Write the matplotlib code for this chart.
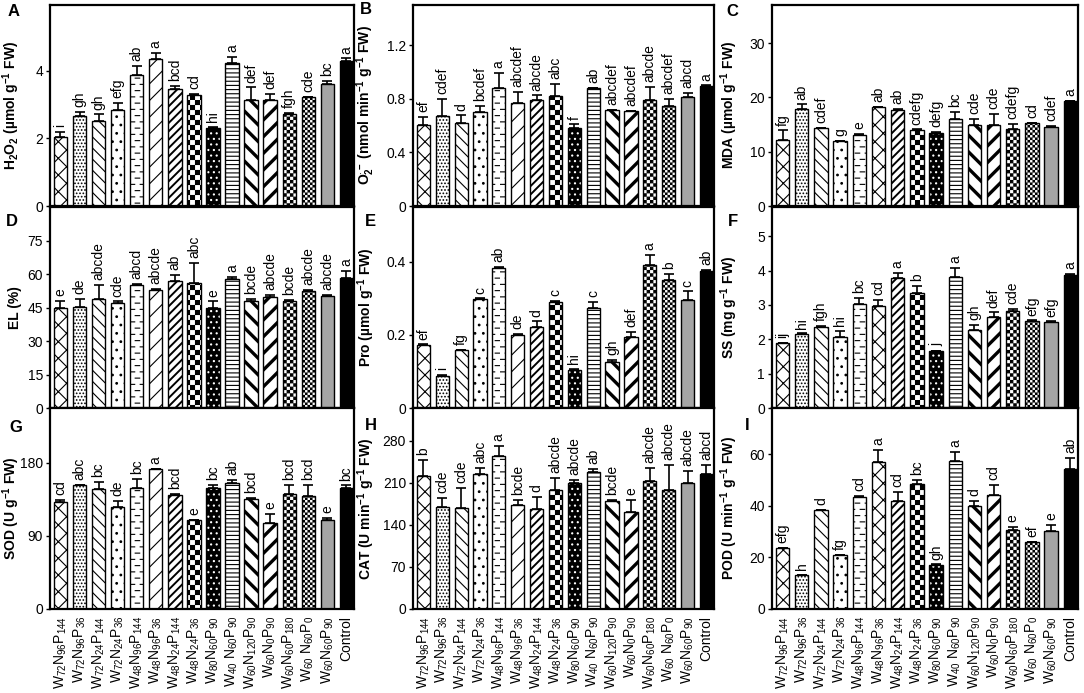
import warnings
warnings.filterwarnings('ignore')
import numpy as np
import matplotlib
matplotlib.use('Agg')
import matplotlib.pyplot as plt
import matplotlib.hatch as mhatch
from matplotlib.path import Path

plt.rcParams['font.family'] = ['Liberation Sans', 'DejaVu Sans']
plt.rcParams['mathtext.fontset'] = 'custom'
plt.rcParams['mathtext.rm'] = 'Liberation Sans'
plt.rcParams['mathtext.it'] = 'Liberation Sans:italic'
plt.rcParams['mathtext.bf'] = 'Liberation Sans:bold'
plt.rcParams['mathtext.default'] = 'regular'
plt.rcParams['hatch.linewidth'] = 0.8


# ---------- custom hatch patterns (checkerboard, short dashes) ----------
class CheckerHatch(mhatch.HatchPatternBase):
    def __init__(self, hatch, density):
        self.n = hatch.count('C') * 5
        m = 2 * self.n
        self.num_vertices = (m * m // 2) * 5 if self.n else 0

    def set_vertices_and_codes(self, vertices, codes):
        m = 2 * self.n
        s = 1.0 / m
        e = 0.005
        k = 0
        for i in range(m):
            for j in range(m):
                if (i + j) % 2 == 0:
                    x0, y0 = j * s + e, i * s + e
                    x1, y1 = (j + 1) * s - e, (i + 1) * s - e
                    vertices[k:k + 5] = [[x0, y0], [x1, y0], [x1, y1], [x0, y1], [x0, y0]]
                    codes[k:k + 5] = [Path.MOVETO, Path.LINETO, Path.LINETO,
                                      Path.LINETO, Path.CLOSEPOLY]
                    k += 5


class ShortDashHatch(mhatch.HatchPatternBase):
    def __init__(self, hatch, density):
        self.rows = hatch.count('d') * 8
        self.cols = 10
        self.num_vertices = self.rows * self.cols * 2

    def set_vertices_and_codes(self, vertices, codes):
        k = 0
        L = 0.045
        for i in range(self.rows):
            y = (i + 0.5) / self.rows
            for j in range(self.cols):
                x = (j + 0.5 * (i % 2)) / self.cols + 0.002
                vertices[k:k + 2] = [[x, y], [x + L, y]]
                codes[k:k + 2] = [Path.MOVETO, Path.LINETO]
                k += 2


mhatch._hatch_types.append(CheckerHatch)
mhatch._hatch_types.append(ShortDashHatch)

# ---------------------------- data ----------------------------
categories = [r'W$_{72}$N$_{96}$P$_{144}$', r'W$_{72}$N$_{96}$P$_{36}$',
              r'W$_{72}$N$_{24}$P$_{144}$', r'W$_{72}$N$_{24}$P$_{36}$',
              r'W$_{48}$N$_{96}$P$_{144}$', r'W$_{48}$N$_{96}$P$_{36}$',
              r'W$_{48}$N$_{24}$P$_{144}$', r'W$_{48}$N$_{24}$P$_{36}$',
              r'W$_{80}$N$_{60}$P$_{90}$', r'W$_{40}$ N$_{60}$P$_{90}$',
              r'W$_{60}$N$_{120}$P$_{90}$', r'W$_{60}$N$_{0}$P$_{90}$',
              r'W$_{60}$N$_{60}$P$_{180}$', r'W$_{60}$ N$_{60}$P$_{0}$',
              r'W$_{60}$N$_{60}$P$_{90}$', 'Control']

h2o2 = [2.05, 2.66, 2.53, 2.84, 3.88, 4.36, 3.47, 3.29, 2.32, 4.22, 3.13, 3.13, 2.71, 3.22, 3.60, 4.28]
h2o2_err = [0.14, 0.12, 0.18, 0.20, 0.26, 0.17, 0.08, 0.02, 0.02, 0.20, 0.38, 0.20, 0.05, 0.02, 0.10, 0.09]
h2o2_sig = ['i', 'gh', 'gh', 'efg', 'ab', 'a', 'bcd', 'cd', 'hi', 'a', 'def', 'def', 'fgh', 'cde', 'bc', 'a']

o2 = [0.606, 0.67, 0.616, 0.70, 0.88, 0.77, 0.79, 0.82, 0.584, 0.88, 0.715, 0.708, 0.79, 0.745, 0.81, 0.895]
o2_err = [0.06, 0.13, 0.06, 0.05, 0.11, 0.08, 0.035, 0.09, 0.025, 0.003, 0.003, 0.003, 0.10, 0.055, 0.035, 0.005]
o2_sig = ['ef', 'cdef', 'd', 'bcdef', 'a', 'abcdef', 'abcde', 'abc', 'f', 'ab', 'abcdef', 'abcdef', 'abcde', 'abcdef', 'abcd', 'a']

mda = [12.2, 17.8, 14.3, 11.9, 13.0, 18.2, 17.7, 14.0, 13.5, 16.1, 14.9, 15.0, 14.1, 15.2, 14.5, 19.3]
mda_err = [1.7, 0.9, 0.1, 0.1, 0.2, 0.1, 0.1, 0.1, 0.1, 1.2, 1.2, 2.0, 1.0, 0.1, 0.3, 0.1]
mda_sig = ['fg', 'ab', 'cdef', 'g', 'e', 'ab', 'ab', 'cdefg', 'defg', 'bc', 'cde', 'cde', 'cdefg', 'cd', 'cdef', 'a']

el = [44.8, 45.4, 48.8, 47.0, 55.1, 52.8, 57.0, 56.0, 44.6, 57.7, 47.8, 49.6, 47.9, 52.5, 50.0, 58.0]
el_err = [3.3, 3.4, 6.2, 0.7, 0.3, 0.7, 2.5, 8.9, 3.1, 1.0, 1.0, 1.0, 0.3, 0.3, 0.7, 3.3]
el_sig = ['e', 'de', 'abcde', 'cde', 'abcd', 'abcde', 'ab', 'abc', 'e', 'a', 'bcde', 'abcde', 'bcde', 'abcde', 'abcde', 'a']

pro = [0.172, 0.088, 0.158, 0.298, 0.383, 0.201, 0.221, 0.291, 0.105, 0.275, 0.126, 0.193, 0.392, 0.351, 0.295, 0.375]
pro_err = [0.002, 0.002, 0.002, 0.002, 0.002, 0.002, 0.016, 0.003, 0.002, 0.015, 0.005, 0.016, 0.027, 0.016, 0.024, 0.002]
pro_sig = ['ef', 'i', 'fg', 'c', 'ab', 'de', 'd', 'c', 'hi', 'c', 'gh', 'def', 'a', 'b', 'c', 'ab']

ss = [1.88, 2.14, 2.37, 2.08, 3.04, 2.97, 3.78, 3.34, 1.66, 3.82, 2.27, 2.66, 2.83, 2.54, 2.51, 3.88]
ss_err = [0.01, 0.03, 0.01, 0.16, 0.16, 0.18, 0.14, 0.21, 0.01, 0.26, 0.15, 0.12, 0.05, 0.01, 0.01, 0.02]
ss_sig = ['ij', 'hi', 'fgh', 'hi', 'bc', 'cd', 'a', 'b', 'j', 'a', 'gh', 'def', 'cde', 'efg', 'efg', 'a']

sod = [131.5, 152.4, 147.0, 124.9, 149.0, 172.0, 140.0, 109.4, 149.0, 155.4, 135.7, 105.3, 141.6, 138.7, 109.4, 149.0]
sod_err = [2.5, 0.5, 9.6, 8.4, 11.3, 0.5, 1.7, 0.5, 3.3, 2.9, 0.5, 11.3, 10.9, 13.8, 2.9, 2.9]
sod_sig = ['cd', 'abc', 'bc', 'de', 'bc', 'a', 'bcd', 'e', 'bc', 'ab', 'bcd', 'e', 'bcd', 'bcd', 'e', 'bc']

cat = [221.8, 169.5, 168.4, 225.8, 255.6, 174.0, 166.7, 198.8, 210.0, 228.6, 180.7, 161.6, 213.4, 198.8, 209.5, 225.8]
cat_err = [27.0, 15.8, 33.8, 9.0, 15.8, 8.4, 20.3, 19.0, 4.5, 4.5, 0.5, 20.8, 21.4, 41.7, 20.8, 14.6]
cat_sig = ['b', 'cde', 'cde', 'abc', 'a', 'bcde', 'd', 'abcde', 'abcde', 'ab', 'bcde', 'e', 'abcde', 'abcde', 'abcde', 'abcd']

pod = [23.6, 13.1, 38.3, 20.8, 43.6, 56.9, 41.9, 48.5, 17.1, 57.5, 40.0, 44.3, 30.7, 25.9, 30.4, 54.4]
pod_err = [0.2, 0.2, 0.2, 0.2, 0.2, 4.8, 3.5, 1.5, 0.2, 3.5, 2.0, 3.7, 1.3, 0.2, 2.3, 4.3]
pod_sig = ['efg', 'h', 'd', 'fg', 'cd', 'a', 'cd', 'bc', 'gh', 'a', 'd', 'cd', 'e', 'ef', 'e', 'ab']

panels = [
    ('A', h2o2, h2o2_err, h2o2_sig, r'H$_\mathbf{2}$O$_\mathbf{2}$ (µmol g$^{\mathbf{-1}}$ FW)', 5.95, [0, 2, 4]),
    ('B', o2, o2_err, o2_sig, r'O$_\mathbf{2}^{\mathbf{\cdot-}}$ (nmol min$^{\mathbf{-1}}$ g$^{\mathbf{-1}}$ FW)', 1.5, [0, 0.4, 0.8, 1.2]),
    ('C', mda, mda_err, mda_sig, r'MDA (µmol g$^{\mathbf{-1}}$ FW)', 37, [0, 10, 20, 30]),
    ('D', el, el_err, el_sig, 'EL (%)', 90, [0, 15, 30, 45, 60, 75]),
    ('E', pro, pro_err, pro_sig, r'Pro (µmol g$^{\mathbf{-1}}$ FW)', 0.55, [0, 0.2, 0.4]),
    ('F', ss, ss_err, ss_sig, r'SS (mg g$^{\mathbf{-1}}$ FW)', 5.85, [0, 1, 2, 3, 4, 5]),
    ('G', sod, sod_err, sod_sig, r'SOD (U g$^{\mathbf{-1}}$ FW)', 247, [0, 90, 180]),
    ('H', cat, cat_err, cat_sig, r'CAT (U min$^{\mathbf{-1}}$ g$^{\mathbf{-1}}$ FW)', 335, [0, 70, 140, 210, 280]),
    ('I', pod, pod_err, pod_sig, r'POD (U min$^{\mathbf{-1}}$ g$^{\mathbf{-1}}$ FW)', 78, [0, 20, 40, 60]),
]

# ---------------------------- styles ----------------------------
base_hatch = ['xx', '.....', '\\\\\\', '..', 'dd', '//', '////', 'CC', '...',
              '----', '\\\\', '//', 'CCC', 'CCCC', '', '']
face = ['white'] * 16
face[8] = 'black'
face[14] = '#a5a5a5'
face[15] = 'black'
hcol = ['black'] * 16
hcol[8] = 'white'
hlw = [0.8] * 16
hlw[6] = 1.4
hlw[10] = 2.4
hlw[11] = 2.4

W, H = 1084, 693
fig = plt.figure(figsize=(W / 100, H / 100), dpi=100)
col_left = [50, 413, 772]
col_w = [304, 301, 306]
row_top = [5, 207, 408]
row_h = 201
ylab_x = [22, 377, 740]
letter_pos = [(14, 12), (366, 10), (732, 11),
              (12, 222), (370, 222), (733, 222),
              (16, 427), (371, 425), (747, 425)]

x = np.arange(len(categories))
bw = 0.7
for idx, (lab, vals, errs, sigs, ylabel, ymax, yticks) in enumerate(panels):
    r, c = divmod(idx, 3)
    l, w = col_left[c], col_w[c]
    t = row_top[r]
    ax = fig.add_axes([l / W, 1 - (t + row_h) / H, w / W, row_h / H])
    hatches = list(base_hatch)
    if c == 2:
        hatches[5] = 'xx'
    for i in range(len(vals)):
        p = ax.bar(x[i], vals[i], width=bw, color=face[i], edgecolor=hcol[i],
                   hatch=hatches[i] if hatches[i] else None, linewidth=0, zorder=2)
        for patch in p:
            if hasattr(patch, 'set_hatch_linewidth'):
                patch.set_hatch_linewidth(hlw[i])
    ax.bar(x, vals, width=bw, fill=False, edgecolor='black', linewidth=1.0, zorder=3)
    ax.errorbar(x, vals, yerr=[np.zeros(len(vals)), errs], fmt='none', ecolor='black',
                elinewidth=1.2, capsize=3.5, capthick=1.2, zorder=4)
    for i in range(len(vals)):
        ax.annotate(sigs[i], (x[i], vals[i] + errs[i]), xytext=(0, 3.5),
                    textcoords='offset points', rotation=90, ha='center', va='bottom',
                    fontsize=10, annotation_clip=False)
    ax.set_xlim(-0.55, 15.4)
    ax.set_ylim(0, ymax)
    ax.set_yticks(yticks)
    ax.set_yticklabels(['{:g}'.format(v) for v in yticks], fontsize=10)
    ax.tick_params(axis='y', direction='out', length=3, width=1, pad=2)
    ax.set_xticks(x)
    if r == 2:
        ax.set_xticklabels(categories, rotation=90, fontsize=10)
        ax.tick_params(axis='x', length=0, pad=5)
    else:
        ax.set_xticklabels([])
        ax.tick_params(axis='x', length=0)
    for s in ax.spines.values():
        s.set_linewidth(1.6)
    ax.set_ylabel(ylabel, fontsize=10, fontweight='bold')
    ax.yaxis.set_label_coords((ylab_x[c] - l) / w, 0.5)
    lx, ly = letter_pos[idx]
    fig.text(lx / W, 1 - ly / H, lab, fontsize=12, fontweight='bold',
             ha='center', va='center')

fig.savefig('out.png', dpi=100)
